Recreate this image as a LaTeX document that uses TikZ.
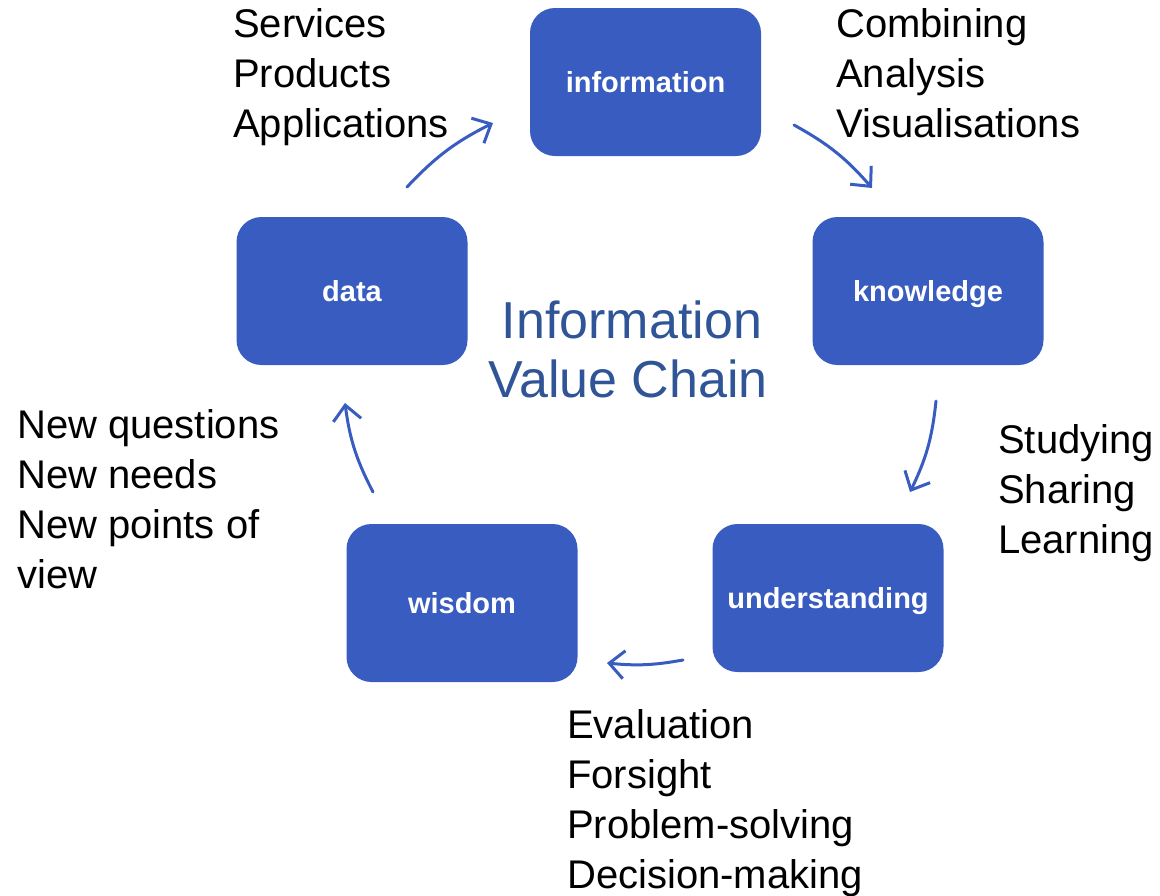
\documentclass[tikz,border=0pt]{standalone}
\usepackage{fontspec}
\setmainfont{Liberation Sans}
\usetikzlibrary{arrows.meta}
\definecolor{boxblue}{HTML}{385CBF}
\definecolor{titleblue}{HTML}{2F5597}
\begin{document}
\begin{tikzpicture}[x=1pt,y=-1pt,
  stage/.style={fill=boxblue, draw=none, rounded corners=25pt, inner sep=0pt,
    minimum width=231pt, minimum height=148pt, text=white,
    font=\fontsize{29}{34}\selectfont\bfseries, text height=21pt, text depth=0pt},
  lbl/.style={anchor=base west, inner sep=0pt, font=\fontsize{40}{50}\selectfont},
  ttl/.style={anchor=base, inner sep=0pt, text=titleblue, font=\fontsize{52}{60}\selectfont},
  flow/.style={draw=boxblue, line width=3pt, line cap=round,
    -{Straight Barb[length=15pt,width=28pt,line width=3pt]}}]
\useasboundingbox (0,0) rectangle (1160,895);
% stages
\node[stage] (info) at (645.5,82) {information};
\node[stage] (know) at (928,291) {knowledge};
\node[stage] (und) at (828,598) {understanding};
\node[stage, minimum height=158pt] (wis) at (462,603) {wisdom};
\node[stage] (dat) at (352,291) {data};
% title
\node[ttl] (t1) at (632,338) {Information};
\node[ttl] (t2) at (628,397) {Value Chain};
% labels
\node[lbl] (s1) at (233,37) {Services};
\node[lbl] (s2) at (233,87) {Products};
\node[lbl] (s3) at (233,137) {Applications};
\node[lbl] (c1) at (836,37) {Combining};
\node[lbl] (c2) at (836,87) {Analysis};
\node[lbl] (c3) at (836,137) {Visualisations};
\node[lbl] (y1) at (998,453) {Studying};
\node[lbl] (y2) at (998,503) {Sharing};
\node[lbl] (y3) at (998,553) {Learning};
\node[lbl] (n1) at (17,438) {New questions};
\node[lbl] (n2) at (17,488) {New needs};
\node[lbl] (n3) at (17,538) {New points of};
\node[lbl] (n4) at (17,588) {view};
\node[lbl] (e1) at (567,738) {Evaluation};
\node[lbl] (e2) at (567,788) {Forsight};
\node[lbl] (e3) at (567,838) {Problem-solving};
\node[lbl] (e4) at (567,888) {Decision-making};
% arrow ends
\coordinate (a1s) at (407,187); \coordinate (a1e) at (493,123);
\coordinate (a2s) at (794,125); \coordinate (a2e) at (872,188);
\coordinate (a3s) at (936,401); \coordinate (a3e) at (910,492);
\coordinate (a4s) at (683,660); \coordinate (a4e) at (607,663);
\coordinate (a5s) at (373,492); \coordinate (a5e) at (345,403);
\draw[flow] (a1s) to[bend left=10] (a1e);
\draw[flow] (a2s) to[bend left=10] (a2e);
\draw[flow] (a3s) to[bend left=10] (a3e);
\draw[flow] (a4s) to[bend left=8] (a4e);
\draw[flow] (a5s) to[bend left=10] (a5e);
\end{tikzpicture}
\end{document}
